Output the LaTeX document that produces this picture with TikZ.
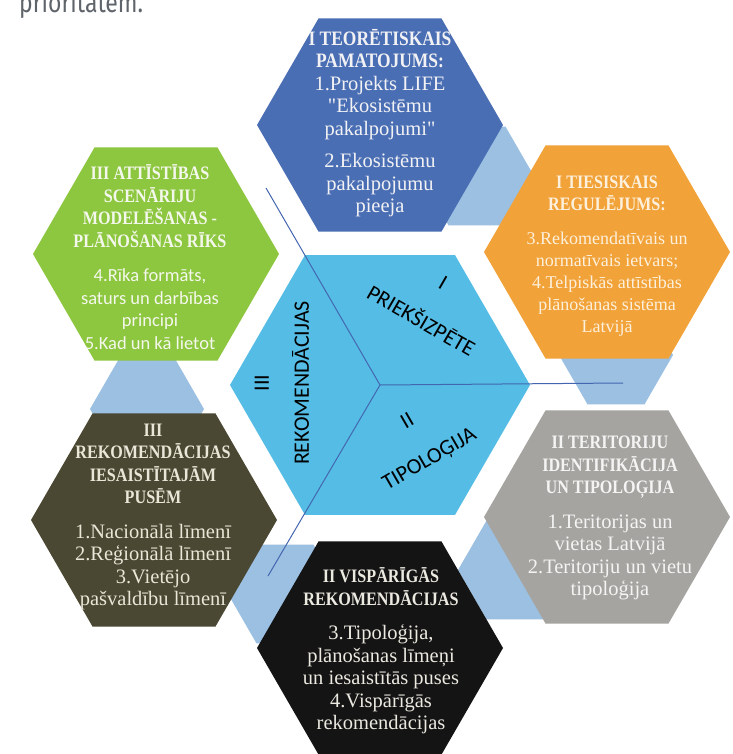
\documentclass[tikz,border=0pt]{standalone}
\usepackage{fontspec}
\setmainfont{Liberation Serif}
\newfontfamily\headfam[FakeStretch=0.85]{Liberation Serif}
\newfontfamily\bodyfam{Liberation Serif}
\newfontfamily\sansfam{Carlito}
\newfontfamily\topfam[FakeStretch=0.82]{Fira Sans}
\usetikzlibrary{shapes.geometric}
\definecolor{cCenter}{HTML}{55BDE5}
\definecolor{cBlue}{HTML}{4A6EB4}
\definecolor{cOrange}{HTML}{F1A238}
\definecolor{cGray}{HTML}{A6A4A0}
\definecolor{cBlack}{HTML}{141414}
\definecolor{cOlive}{HTML}{4A4832}
\definecolor{cGreen}{HTML}{8DC63F}
\definecolor{cLink}{HTML}{9BC0E2}
\definecolor{cLine}{HTML}{4466B0}
\definecolor{cTop}{HTML}{5F646B}
\definecolor{tBlue}{HTML}{F2F2F4}
\definecolor{tOrange}{HTML}{FDF0DC}
\definecolor{tGreen}{HTML}{F4F8EC}
\definecolor{tGray}{HTML}{F4F4F4}
\definecolor{tBlack}{HTML}{ECE9E1}
\definecolor{tOlive}{HTML}{EAE6D8}
\newcommand\hd{\headfam\bfseries\fontsize{19}{22.5}\selectfont}
\newcommand\hdb{\headfam\bfseries\fontsize{20.5}{23.5}\selectfont}
\newcommand\bd{\bodyfam\fontsize{20.5}{22.5}\selectfont}
\newcommand\bdo{\bodyfam\fontsize{18}{22}\selectfont}
\newcommand\bdg{\sansfam\fontsize{18.5}{22.5}\selectfont}
\begin{document}
\begin{tikzpicture}[x=1pt,y=-1pt,
  hexa/.style={regular polygon, regular polygon sides=6, minimum size=#1, inner sep=0pt, draw=none},
  txt/.style={align=center, inner sep=0pt},
  ctr/.style={font=\sansfam\fontsize{22}{26}\selectfont, text=black, inner sep=0pt, align=center},
  divline/.style={draw=cLine, line width=1pt}]
\clip (0,0) rectangle (732,754);
\fill[white] (0,0) rectangle (732,754);
% top cropped text
\node[anchor=base west, inner sep=0pt, font=\topfam\fontsize{28}{30}\selectfont, text=cTop] (toptext) at (19,13) {prioritātēm.};
% connector hexagons
\node[hexa=114pt, fill=cLink] (l1) at (477,176) {};
\node[hexa=114pt, fill=cLink] (l2) at (616,355) {};
\node[hexa=114pt, fill=cLink] (l3) at (515,570) {};
\node[hexa=114pt, fill=cLink] (l4) at (285,594) {};
\node[hexa=114pt, fill=cLink] (l5) at (147,409) {};
% outer hexagons
\node[hexa=246pt, fill=cBlue] (h1) at (380,125) {};
\node[hexa=246pt, fill=cOrange] (h2) at (607,252) {};
\node[hexa=246pt, fill=cGray] (h3) at (607,517) {};
\node[hexa=246pt, fill=cBlack] (h4) at (380,648) {};
\node[hexa=246pt, fill=cOlive] (h5) at (154,520) {};
\node[hexa=246pt, fill=cGreen] (h6) at (156,254) {};
% centre
\node[hexa=300pt, fill=cCenter] (c) at (380,385) {};
\coordinate (e1) at (623,383);
\coordinate (e2) at (266,188);
\coordinate (e3) at (268,576);
\draw[divline] (c.center) -- (e1);
\draw[divline] (c.center) -- (e2);
\draw[divline] (c.center) -- (e3);
% centre labels
\node[ctr, rotate=-30] (p1) at (432,302) {I\\[18pt]PRIEKŠIZPĒTE};
\node[ctr, rotate=30] (p2) at (419,441) {II\\[18pt]TIPOLOĢIJA};
\node[ctr, rotate=90] (p3) at (282,383) {III\\[14pt]REKOMENDĀCIJAS};
% outer texts
\node[txt, text=tBlue, font=\bd] (t1) at (380,123) {{\hdb I TEORĒTISKAIS}\\{\hdb PAMATOJUMS:}\\1.Projekts LIFE\\"Ekosistēmu\\pakalpojumi"\\[10pt]2.Ekosistēmu\\pakalpojumu\\pieeja};
\node[txt, text=tOrange, font=\bdo] (t2) at (607,256) {{\hd I TIESISKAIS}\\{\hd REGULĒJUMS:}\\[12pt]3.Rekomendatīvais un\\normatīvais ietvars;\\4.Telpiskās attīstības\\plānošanas sistēma\\Latvijā};
\node[txt, text=tGray, font=\bd] (t3) at (610,518) {{\hd II TERITORIJU}\\{\hd IDENTIFIKĀCIJA}\\{\hd UN TIPOLOĢIJA}\\[12pt]1.Teritorijas un\\vietas Latvijā\\2.Teritoriju un vietu\\tipoloģija};
\node[txt, text=tBlack, font=\bd] (t4) at (381,651) {{\hd II VISPĀRĪGĀS}\\{\hd REKOMENDĀCIJAS}\\[12pt]3.Tipoloģija,\\plānošanas līmeņi\\un iesaistītās puses\\4.Vispārīgās\\rekomendācijas};
\node[txt, text=tOlive, font=\bd] (t5) at (153,517) {{\hd III}\\{\hd REKOMENDĀCIJAS}\\{\hd IESAISTĪTAJĀM}\\{\hd PUSĒM}\\[12pt]1.Nacionālā līmenī\\2.Reģionālā līmenī\\3.Vietējo\\pašvaldību līmenī};
\node[txt, text=tGreen, font=\bdg] (t6) at (150,257) {{\hd III ATTĪSTĪBAS}\\{\hd SCENĀRIJU}\\{\hd MODELĒŠANAS -}\\{\hd PLĀNOŠANAS RĪKS}\\[12pt]4.Rīka formāts,\\saturs un darbības\\principi\\5.Kad un kā lietot};
\end{tikzpicture}
\end{document}
